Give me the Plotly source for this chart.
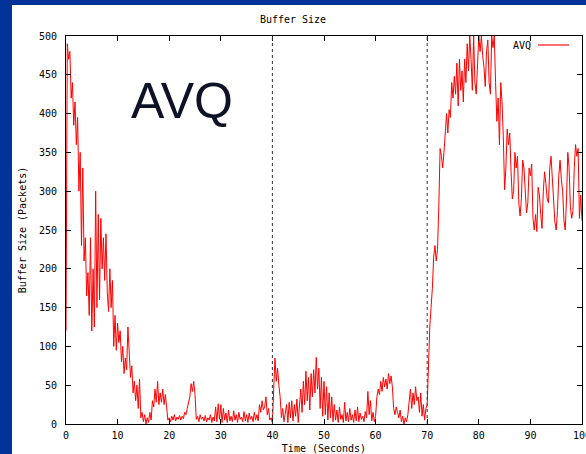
import plotly.graph_objects as go

# Sampling interval of the queue trace (seconds)
SAMPLE_INTERVAL = 0.25

# AVQ buffer occupancy (packets), one list per 10-second stretch
avq_00_10 = [120, 490, 470, 480, 420, 440, 385, 415, 360, 395,
             300, 350, 230, 330, 210, 240, 165, 195, 140, 240,
             120, 200, 125, 300, 150, 270, 160, 265, 200, 240,
             185, 245, 170, 145, 200, 150, 185, 100, 140, 95]
avq_10_20 = [130, 105, 120, 80, 100, 65, 85, 70, 125, 90,
             60, 75, 40, 55, 30, 50, 20, 58, 8, 15,
             3, 12, 0, 8, 2, 15, 5, 30, 22, 45,
             28, 55, 25, 40, 28, 45, 25, 38, 22, 5]
avq_20_30 = [8, 3, 10, 5, 12, 4, 9, 6, 11, 5,
             10, 7, 15, 12, 20, 28, 35, 52, 42, 55,
             38, 6, 10, 3, 12, 6, 9, 4, 11, 3,
             8, 5, 12, 2, 9, 4, 22, 3, 26, 6]
avq_30_40 = [25, 2, 20, 5, 14, 2, 18, 4, 10, 3,
             17, 5, 12, 2, 15, 6, 9, 3, 16, 4,
             12, 2, 14, 6, 10, 3, 15, 5, 12, 4,
             25, 15, 30, 18, 22, 35, 12, 20, 5, 8]
avq_40_50 = [2, 45, 85, 55, 72, 50, 35, 8, 20, 3,
             15, 25, 2, 28, 8, 30, 4, 25, 10, 32,
             2, 30, 45, 15, 55, 25, 68, 30, 60, 18,
             65, 35, 70, 40, 86, 45, 72, 20, 60, 10]
avq_50_60 = [55, 12, 48, 5, 40, 8, 35, 3, 25, 5,
             18, 2, 22, 6, 12, 2, 28, 4, 15, 3,
             20, 5, 12, 2, 18, 4, 22, 3, 14, 6,
             10, 3, 16, 8, 42, 12, 30, 4, 15, 3]
avq_60_70 = [10, 35, 45, 38, 55, 42, 60, 48, 58, 45,
             65, 52, 62, 48, 20, 12, 22, 15, 8, 18,
             3, 10, 0, 8, 3, 12, 25, 45, 20, 40,
             25, 48, 30, 35, 15, 40, 10, 25, 5, 20]
avq_70_80 = [25, 95, 125, 150, 175, 215, 230, 210, 225, 280,
             355, 345, 330, 350, 380, 400, 375, 405, 395, 440,
             420, 448, 425, 465, 410, 470, 430, 455, 415, 470,
             440, 490, 455, 500, 470, 430, 500, 440, 425, 470]
avq_80_90 = [500, 480, 500, 475, 460, 435, 480, 495, 440, 425,
             500, 485, 500, 440, 390, 420, 360, 440, 415, 370,
             302, 330, 380, 360, 375, 325, 290, 300, 350, 330,
             345, 285, 268, 290, 340, 330, 290, 272, 285, 330]
avq_90_100 = [320, 335, 265, 250, 270, 248, 305, 295, 270, 252,
              300, 325, 310, 290, 285, 330, 345, 320, 290, 260,
              250, 275, 320, 340, 315, 300, 262, 250, 290, 350,
              330, 280, 265, 275, 330, 360, 345, 355, 265, 295,
              262]

# Times at which the traffic pattern changes (seconds)
event_times = [40, 70]

series_name = "AVQ"
chart_title = "Buffer Size"
x_title = "Time (Seconds)"
y_title = "Buffer Size (Packets)"
x_ticks = list(range(0, 101, 10))
y_ticks = list(range(0, 501, 50))

avq = (avq_00_10 + avq_10_20 + avq_20_30 + avq_30_40 + avq_40_50
       + avq_50_60 + avq_60_70 + avq_70_80 + avq_80_90 + avq_90_100)
time_s = [i * SAMPLE_INTERVAL for i in range(len(avq))]

W, H = 586, 454
L, R, T, B = 66, 4, 36, 30
pw, ph = W - L - R, H - T - B


def px_x(p):
    return (p - L) / pw


def px_y(p):
    return (H - B - p) / ph


mono = dict(family="DejaVu Sans Mono", size=10, color="#000000")

fig = go.Figure()
fig.add_trace(go.Scatter(
    x=time_s, y=avq, mode="lines", name=series_name,
    line=dict(color="#ff0000", width=1),
    showlegend=False,
))

shapes = [
    # white canvas inside the blue frame
    dict(type="rect", xref="paper", yref="paper", layer="below",
         x0=px_x(12), x1=px_x(W + 2), y0=px_y(H + 2), y1=px_y(5),
         fillcolor="#ffffff", line=dict(width=0)),
    # key sample line
    dict(type="line", xref="paper", yref="paper",
         x0=px_x(538), x1=px_x(569), y0=px_y(45), y1=px_y(45),
         line=dict(color="#ff4040", width=1.5)),
]
for t in event_times:
    shapes.append(dict(type="line", xref="x", yref="y", x0=t, x1=t, y0=0, y1=500,
                       line=dict(color="#333333", width=1, dash="dot")))

annotations = [
    dict(text=series_name, xref="paper", yref="paper",
         x=px_x(533), y=px_y(45), xanchor="right", yanchor="middle",
         showarrow=False, font=mono),
    dict(text=series_name, xref="paper", yref="paper",
         x=px_x(182), y=px_y(101), xanchor="center", yanchor="middle",
         showarrow=False,
         font=dict(family="Liberation Sans", size=50, color="#0d1226")),
]

axis_common = dict(
    showline=True, linecolor="#000000", linewidth=1, mirror="ticks",
    ticks="inside", ticklen=5, tickcolor="#000000", tickwidth=1,
    showgrid=False, zeroline=False, tickfont=mono, automargin=False,
)

fig.update_layout(
    width=W, height=H,
    margin=dict(l=L, r=R, t=T, b=B, pad=0),
    paper_bgcolor="#003399",
    plot_bgcolor="#ffffff",
    title=dict(text=chart_title, font=mono, x=px_x(324), xanchor="center",
               y=1 - 19 / H, yanchor="middle"),
    xaxis=dict(range=[0, 100], tickvals=x_ticks, ticklabelstandoff=2,
               ticklabeloverflow="allow",
               title=dict(text=x_title, font=mono, standoff=10), **axis_common),
    yaxis=dict(range=[0, 500], tickvals=y_ticks, ticklabelstandoff=6,
               title=dict(text=y_title, font=mono, standoff=10), **axis_common),
    shapes=shapes,
    annotations=annotations,
    showlegend=False,
)

fig.write_html("out.html")
